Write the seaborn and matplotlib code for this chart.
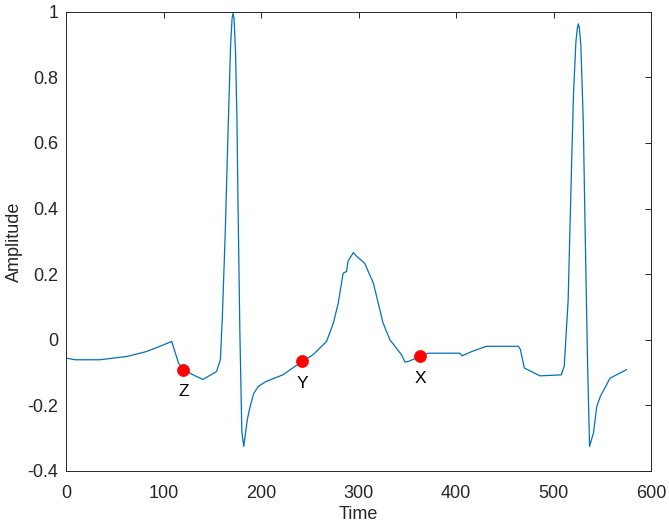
import matplotlib
matplotlib.use("Agg")
import matplotlib.pyplot as plt
import seaborn as sns
import pandas as pd

# ECG trace
time = [0, 9, 34, 62, 82, 96, 108, 115, 120, 130, 140, 154, 158,
        160, 163, 166, 168.5, 170, 171, 172, 173.5, 175, 176, 178, 180, 182, 185.6,
        188, 192, 197, 205, 222, 242, 253, 267, 274, 279, 284, 287.5,
        289, 294.5, 298, 306, 315, 325, 332, 344, 347.5, 351, 363, 371,
        404, 406, 416, 431, 464, 466, 470, 486, 508, 511, 515, 518.5,
        520.5, 523, 524.5, 525.5, 526.5, 528, 530.5, 532.5, 535, 537, 541, 544.4, 548,
        558, 575]
amplitude = [-0.056, -0.061, -0.061, -0.051, -0.036, -0.02, -0.005, -0.071,
             -0.091, -0.107, -0.121, -0.097, -0.061,
             0.07, 0.33, 0.65, 0.90, 0.98, 0.995, 0.98, 0.88, 0.67, 0.43, 0.02, -0.28,
             -0.325, -0.244,
             -0.21, -0.165, -0.142, -0.127, -0.107, -0.066, -0.046, -0.005,
             0.051, 0.112, 0.203, 0.208,
             0.239, 0.266, 0.254, 0.234, 0.173, 0.051, 0.0, -0.046, -0.068,
             -0.066, -0.051, -0.041,
             -0.041, -0.049, -0.036, -0.02, -0.02, -0.03, -0.086, -0.11,
             -0.107, -0.08, 0.12, 0.53,
             0.75, 0.91, 0.95, 0.963, 0.95, 0.90, 0.67, 0.325, -0.08, -0.325, -0.284,
             -0.203, -0.173,
             -0.117, -0.091]

point_labels = ["Z", "Y", "X"]
point_time = [120, 242, 363]
point_amp = [-0.091, -0.066, -0.051]

xticks = [0, 100, 200, 300, 400, 500, 600]
yticks = [-0.4, -0.2, 0, 0.2, 0.4, 0.6, 0.8, 1]

sns.set_style("white")
plt.rcParams['font.family'] = ['Liberation Sans', 'DejaVu Sans']

ecg = pd.DataFrame({"Time": time, "Amplitude": amplitude})
pts = pd.DataFrame({"Time": point_time, "Amplitude": point_amp, "label": point_labels})

fig = plt.figure(figsize=(6.69, 5.32), dpi=100)
ax = fig.add_axes([0.0994, 0.1147, 0.8736, 0.8633])

sns.lineplot(data=ecg, x="Time", y="Amplitude", ax=ax, color="#0072BD",
             linewidth=0.9, estimator=None, sort=False)
sns.scatterplot(data=pts, x="Time", y="Amplitude", ax=ax, color="red",
                s=75, edgecolor="red", linewidth=0.5, zorder=3)
for _, r in pts.iterrows():
    ax.annotate(r["label"], (r["Time"], r["Amplitude"]), xytext=(0, -16),
                textcoords="offset points", ha="center", va="center",
                fontsize=12.5, color="black")

ax.set_xlim(0, 600)
ax.set_ylim(-0.4, 1)
ax.set_xticks(xticks)
ax.set_yticks(yticks)
ax.set_yticklabels([f"{v:g}" for v in yticks])
ax.tick_params(direction="in", length=4, width=0.7, colors="#262626",
               labelsize=13, top=True, right=True, pad=6)
ax.tick_params(axis="x", pad=10)
for s in ax.spines.values():
    s.set_visible(True)
    s.set_color("#262626")
    s.set_linewidth(0.7)
ax.set_xlabel("Time", fontsize=13, color="#262626", labelpad=3)
ax.set_ylabel("Amplitude", fontsize=13, color="#262626", labelpad=3)

fig.savefig("out.png", dpi=100)
